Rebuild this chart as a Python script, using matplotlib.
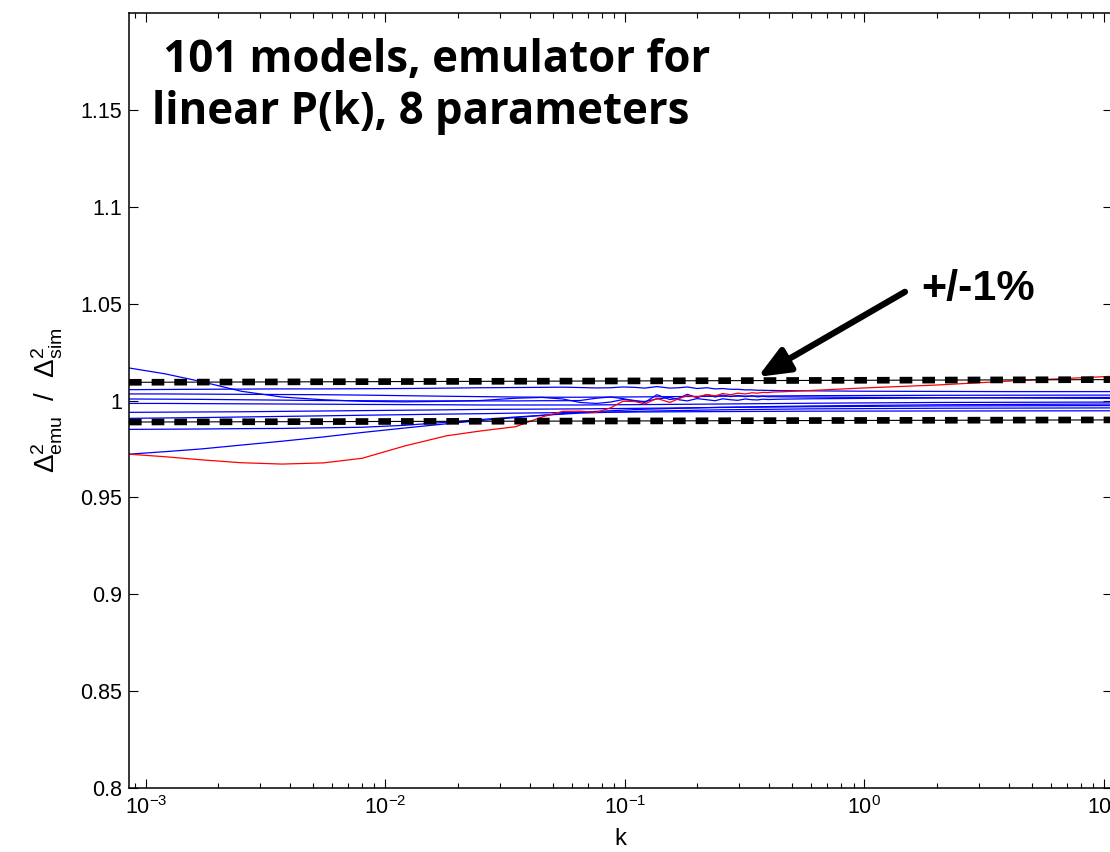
import matplotlib
matplotlib.use("Agg")
import matplotlib.pyplot as plt
from matplotlib.ticker import FixedLocator, LogLocator, NullFormatter

plt.rcParams["font.family"] = ["Liberation Sans", "DejaVu Sans"]
plt.rcParams["mathtext.fontset"] = "custom"
plt.rcParams["mathtext.rm"] = "Liberation Sans"
plt.rcParams["mathtext.it"] = "Liberation Sans:italic"
plt.rcParams["mathtext.bf"] = "Liberation Sans:bold"

# k sampling for the curves that carry BAO wiggles
k_fine = [8.5e-4, 1.2e-3, 1.7e-3, 2.5e-3, 3.7e-3, 5.5e-3, 8e-3, 1.2e-2, 1.8e-2,
          2.5e-2, 3.5e-2, 4.5e-2, 5.5e-2, 6.5e-2, 7.6e-2, 8.7e-2, 0.098, 0.11,
          0.121, 0.136, 0.154, 0.168, 0.182, 0.2, 0.22, 0.238, 0.256, 0.276,
          0.296, 0.318, 0.339, 0.358, 0.377, 0.396, 0.415, 0.45, 0.6, 1.0, 2.0,
          4.0, 10.8]

# k sampling for the smooth curves
k_smooth = [8.5e-4, 1.2e-3, 1.7e-3, 2.5e-3, 3.7e-3, 5.5e-3, 8e-3, 1.2e-2,
            1.8e-2, 2.5e-2, 3.5e-2, 5e-2, 6.5e-2, 0.12, 0.25, 0.6, 2.0, 10.8]

ratio_red = [0.9723, 0.9710, 0.9694, 0.9679, 0.9672, 0.9678, 0.9702, 0.9765,
             0.9818, 0.9843, 0.9865, 0.9915, 0.9944, 0.9945, 0.9939, 0.9962,
             0.9996, 0.9995, 0.9982, 1.0011, 0.9990, 1.0010, 1.0025, 1.0018,
             1.0031, 1.0024, 1.0036, 1.0030, 1.0038, 1.0034, 1.0040, 1.0038,
             1.0042, 1.0041, 1.0044, 1.0045, 1.0052, 1.0065, 1.0080, 1.0100,
             1.0125]

ratio_top = [1.0056, 1.0057, 1.0058, 1.0059, 1.0060, 1.0060, 1.0061, 1.0062,
             1.0064, 1.0066, 1.0067, 1.0068, 1.0069, 1.0067, 1.0065, 1.0066,
             1.0070, 1.0068, 1.0064, 1.0072, 1.0064, 1.0066, 1.0070, 1.0062,
             1.0066, 1.0060, 1.0062, 1.0058, 1.0058, 1.0055, 1.0055, 1.0053,
             1.0053, 1.0052, 1.0052, 1.0051, 1.0050, 1.0048, 1.0047, 1.0046,
             1.0046]

ratio_falling = [1.0168, 1.0138, 1.0098, 1.0048, 1.0018, 1.0004, 0.9996, 0.9993,
                 0.9996, 1.0000, 1.0012, 1.0016, 1.0008, 0.9990, 0.9985, 0.9992,
                 1.0005, 1.0000, 0.9990, 1.0030, 1.0005, 1.0012, 1.0032, 1.0015,
                 1.0030, 1.0018, 1.0028, 1.0020, 1.0026, 1.0020, 1.0024, 1.0019,
                 1.0022, 1.0019, 1.0020, 1.0019, 1.0018, 1.0016, 1.0015, 1.0013,
                 1.0011]

ratio_mid = [1.0008, 1.0007, 1.0006, 1.0004, 1.0002, 1.0000, 0.9999, 0.9998,
             0.9998, 0.9998, 0.9998, 0.9999, 0.9999, 1.0000, 1.0012, 1.0018,
             1.0010, 0.9998, 0.9995, 1.0008, 1.0016, 1.0004, 0.9998, 1.0010,
             1.0004, 0.9999, 1.0009, 1.0004, 1.0001, 1.0008, 1.0004, 1.0003,
             1.0007, 1.0005, 1.0006, 1.0007, 1.0009, 1.0011, 1.0013, 1.0015,
             1.0016]

smooth_curves = [
    [1.0034, 1.0034, 1.0033, 1.0032, 1.0031, 1.0030, 1.0028, 1.0025, 1.0022,
     1.0020, 1.0018, 1.0017, 1.0017, 1.0019, 1.0022, 1.0025, 1.0027, 1.0028],
    [0.9985, 0.9985, 0.9984, 0.9983, 0.9982, 0.9981, 0.9980, 0.9979, 0.9978,
     0.9977, 0.9977, 0.9977, 0.9977, 0.9979, 0.9982, 0.9986, 0.9990, 0.9992],
    [0.9939, 0.9940, 0.9941, 0.9942, 0.9944, 0.9946, 0.9948, 0.9950, 0.9952,
     0.9954, 0.9955, 0.9956, 0.9957, 0.9960, 0.9964, 0.9968, 0.9972, 0.9974],
    [0.9908, 0.9910, 0.9912, 0.9915, 0.9918, 0.9921, 0.9924, 0.9927, 0.9930,
     0.9932, 0.9935, 0.9937, 0.9939, 0.9941, 0.9943, 0.9945, 0.9946, 0.9947],
    [0.9851, 0.9852, 0.9853, 0.9855, 0.9856, 0.9859, 0.9862, 0.9872, 0.9888,
     0.9902, 0.9915, 0.9927, 0.9935, 0.9945, 0.9952, 0.9957, 0.9960, 0.9962],
    [0.9723, 0.9736, 0.9750, 0.9770, 0.9790, 0.9812, 0.9835, 0.9858, 0.9880,
     0.9897, 0.9912, 0.9928, 0.9940, 0.9955, 0.9965, 0.9972, 0.9978, 0.9982],
]

# +/-1% band
band_k = [8.5e-4, 10.8]
band_upper = [1.0094, 1.0108]
band_lower = [0.9889, 0.9900]

x_ticks = [1e-3, 1e-2, 1e-1, 1e0, 1e1]
y_ticks = [0.8, 0.85, 0.9, 0.95, 1.0, 1.05, 1.1, 1.15]
y_tick_labels = ["0.8", "0.85", "0.9", "0.95", "1", "1.05", "1.1", "1.15"]

fig = plt.figure(figsize=(11.1, 8.52), dpi=100)
ax = fig.add_axes([0.1162, 0.0751, 0.8856, 0.9096])

blue = "#0000ff"
for vals in smooth_curves:
    ax.plot(k_smooth, vals, color=blue, lw=0.9)
for vals in (ratio_top, ratio_falling, ratio_mid):
    ax.plot(k_fine, vals, color=blue, lw=0.9)
ax.plot(k_fine, ratio_red, color="#ff0000", lw=0.9)

for band in (band_upper, band_lower):
    ax.plot(band_k, band, color="k", lw=0.8)
    ax.plot(band_k, band, color="k", lw=4.8, linestyle=(0, (1.9, 1.5)))

ax.set_xscale("log")
ax.set_xlim(8.5e-4, 10.8)
ax.set_ylim(0.8, 1.2)
ax.xaxis.set_major_locator(FixedLocator(x_ticks))
ax.xaxis.set_minor_locator(LogLocator(base=10, subs=range(2, 10)))
ax.xaxis.set_minor_formatter(NullFormatter())
ax.set_yticks(y_ticks)
ax.set_yticklabels(y_tick_labels)

ax.tick_params(which="both", direction="in", top=True, right=True, labelsize=15.5)
ax.tick_params(which="major", length=6.7, width=0.8)
ax.tick_params(which="minor", length=3.6, width=0.8)
ax.tick_params(axis="x", pad=6)
ax.tick_params(axis="y", pad=5)
for sp in ax.spines.values():
    sp.set_linewidth(1.1)

ax.set_xlabel("k", fontsize=17, labelpad=6)
ax.set_ylabel(r"$\Delta^2_{\rm emu}$  /  $\Delta^2_{\rm sim}$", fontsize=20)
ax.yaxis.set_label_coords(-0.065, 0.5)

ax.text(0.0234, 0.968, " 101 models, emulator for\nlinear P(k), 8 parameters",
        transform=ax.transAxes, ha="left", va="top", fontsize=31.5,
        fontweight="bold", family="Open Sans", linespacing=1.2)

ax.annotate("", xy=(0.359, 1.0122), xytext=(1.476, 1.0561),
            arrowprops=dict(arrowstyle="-|>,head_length=0.95,head_width=0.4",
                            lw=4.5, color="k", mutation_scale=20,
                            shrinkA=0, shrinkB=0))
ax.text(1.72, 1.0575, "+/-1%", fontsize=31, fontweight="bold",
        ha="left", va="center")

fig.savefig("out.png", dpi=100)
